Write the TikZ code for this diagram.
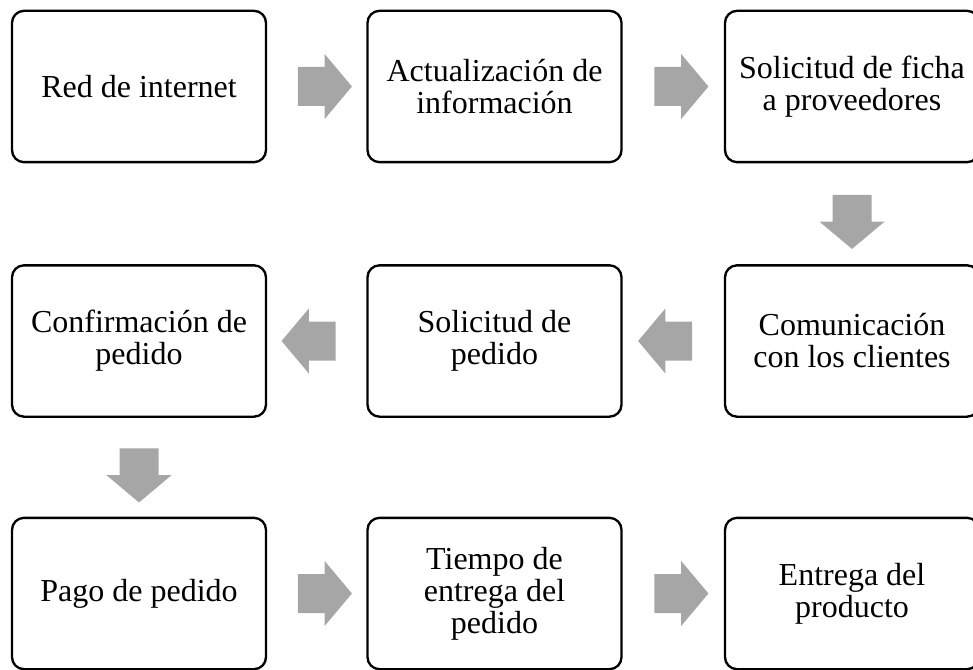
\documentclass[tikz,border=0pt]{standalone}
\usepackage{fontspec}
\setmainfont{Liberation Serif}
\usetikzlibrary{shapes.arrows}

\tikzset{every picture/.style={line width=0.75pt}}
\tikzset{
  stepbox/.style={draw, line width=1.75pt, rounded corners=9pt, minimum width=190.5pt, minimum height=113.5pt, inner sep=0pt, align=center, font=\fontsize{24}{24}\selectfont},
  flowarrow/.style={single arrow, draw=none, fill={rgb, 255:red, 166; green, 166; blue, 166 }, minimum height=40.5pt, inner xsep=0pt, inner ysep=14.25pt, single arrow head extend=9.75pt, single arrow tip angle=100}
}

\begin{document}
\begin{tikzpicture}[x=0.75pt,y=0.75pt,yscale=-1,xscale=1]
\useasboundingbox (0,0) rectangle (973,670);

% Boxes, first row
\node[stepbox] (red) at (139,86.5) {Red de internet};
\node[stepbox] (actual) at (494.5,86.5) {Actualización de\\información};
\node[stepbox] (ficha) at (852,86.5) {Solicitud de ficha\\a proveedores};
% Boxes, second row
\node[stepbox] (comunic) at (852,341) {Comunicación\\con los clientes};
\node[stepbox] (solped) at (494.5,341) {Solicitud de\\pedido};
\node[stepbox] (confirm) at (139,341) {Confirmación de\\pedido};
% Boxes, third row
\node[stepbox] (pago) at (139,593.5) {Pago de pedido};
\node[stepbox] (tiempo) at (494.5,593.5) {Tiempo de\\entrega del\\pedido};
\node[stepbox] (entrega) at (852,593.5) {Entrega del\\producto};

% Block arrows
\path (red) -- node[flowarrow] {} (actual);
\path (actual) -- node[flowarrow] {} (ficha);
\path (ficha) -- node[flowarrow, rotate=-90] {} (comunic);
\path (comunic) -- node[flowarrow, rotate=180] {} (solped);
\path (solped) -- node[flowarrow, rotate=180] {} (confirm);
\path (confirm) -- node[flowarrow, rotate=-90] {} (pago);
\path (pago) -- node[flowarrow] {} (tiempo);
\path (tiempo) -- node[flowarrow] {} (entrega);

\end{tikzpicture}
\end{document}
